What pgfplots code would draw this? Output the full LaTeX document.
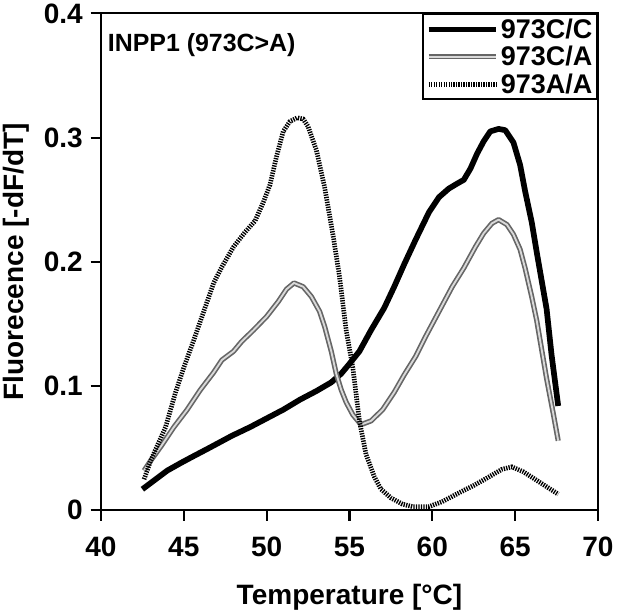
\documentclass[border=0pt]{standalone}
\usepackage{fontspec}
\setmainfont{Liberation Sans}
\usepackage{pgfplots}
\pgfplotsset{compat=1.18}

\pgfplotstableread{
x y
42.5 0.017
43.0 0.022
43.5 0.027
44.0 0.032
44.8 0.038
45.5 0.043
46.5 0.050
47.9 0.060
49.0 0.067
50.0 0.074
51.0 0.081
52.0 0.089
53.0 0.096
53.9 0.103
54.5 0.110
55.0 0.118
55.6 0.128
56.3 0.145
57.1 0.163
57.7 0.180
58.3 0.198
59.0 0.218
59.8 0.240
60.4 0.252
61.0 0.259
61.5 0.263
61.9 0.266
62.3 0.275
62.7 0.287
63.1 0.297
63.5 0.305
64.0 0.307
64.4 0.306
64.9 0.296
65.3 0.278
65.6 0.257
66.0 0.232
66.3 0.208
66.9 0.162
67.2 0.125
67.6 0.084
}\cc

\pgfplotstableread{
x y
42.6 0.032
43.0 0.040
43.7 0.053
44.4 0.067
45.2 0.081
46.0 0.097
46.8 0.111
47.3 0.121
48.0 0.128
48.5 0.136
49.2 0.145
50.0 0.156
50.7 0.168
51.2 0.178
51.65 0.183
52.2 0.180
52.7 0.172
53.2 0.160
53.5 0.148
53.9 0.128
54.2 0.110
54.5 0.097
54.8 0.087
55.2 0.077
55.7 0.069
56.3 0.072
57.0 0.081
57.7 0.095
58.3 0.109
59.0 0.124
59.6 0.140
60.4 0.160
61.2 0.180
61.9 0.195
62.6 0.212
63.1 0.223
63.6 0.231
64.0 0.234
64.5 0.230
64.9 0.222
65.3 0.210
65.6 0.195
66.0 0.172
66.3 0.153
66.9 0.106
67.3 0.078
67.6 0.056
}\ca

\pgfplotstableread{
x y
42.6 0.025
43.0 0.040
43.5 0.055
43.9 0.067
44.5 0.095
45.0 0.115
45.6 0.137
46.2 0.160
46.8 0.183
47.3 0.196
48.0 0.212
48.7 0.224
49.3 0.233
49.8 0.248
50.2 0.262
50.6 0.285
51.0 0.305
51.4 0.313
51.85 0.316
52.2 0.315
52.5 0.309
53.0 0.290
53.5 0.260
54.0 0.222
54.4 0.188
54.8 0.145
55.2 0.115
55.6 0.072
56.0 0.045
56.5 0.027
56.9 0.017
57.5 0.010
58.2 0.005
58.8 0.003
59.8 0.003
60.6 0.007
61.6 0.014
62.5 0.020
63.3 0.026
64.2 0.033
64.8 0.035
65.5 0.031
66.2 0.025
66.9 0.019
67.6 0.013
}\aa

\begin{document}
\begin{tikzpicture}
\begin{axis}[
  scale only axis,
  width=479pt, height=479pt,
  xmin=40, xmax=70, ymin=0, ymax=0.4,
  xtick={40,45,...,70},
  ytick={0,0.1,0.2,0.3,0.4},
  yticklabels={0,0.1,0.2,0.3,0.4},
  axis line style={line width=2pt},
  tick style={line width=2pt, black},
  tick align=outside,
  major tick length=10pt,
  xtick pos=bottom, ytick pos=left,
  /pgf/number format/assume math mode=true,
  ticklabel style={font=\fontsize{27}{30}\selectfont\bfseries},
  xticklabel style={yshift=-12pt},
  yticklabel style={xshift=-4pt},
  xlabel={Temperature [°C]},
  ylabel={Fluorecence [-dF/dT]},
  label style={font=\fontsize{27}{30}\selectfont\bfseries},
  xlabel style={at={(axis description cs:0.5,-0.175)}, anchor=center},
  ylabel style={at={(axis description cs:-0.17,0.5)}, anchor=center},
  legend style={at={(1,1)}, anchor=north east, draw=black, line width=1.8pt,
    font=\fontsize{26}{26}\selectfont\bfseries, inner sep=3pt,
    nodes={inner sep=1.5pt}, row sep=3pt,
    /tikz/every even column/.append style={column sep=0pt}},
  legend cell align=left,
  legend image code/.code={\draw[#1] (0cm,0cm) -- (2.3cm,0cm);},
]
\addplot[black, line width=5.5pt, line join=round] table {\cc};
\addplot[draw=black!60, line width=1.6pt, double=gray!30, double distance=1.8pt, line join=round] table {\ca};
\addplot[black, line width=4.5pt, dash pattern=on 1.3pt off 1.1pt] table {\aa};
\legend{973C/C, 973C/A, 973A/A}
\node[anchor=base west, font=\fontsize{24}{26}\selectfont\bfseries] at (axis cs:40.2,0.369) {INPP1 (973C>A)};
\end{axis}
\end{tikzpicture}
\end{document}
